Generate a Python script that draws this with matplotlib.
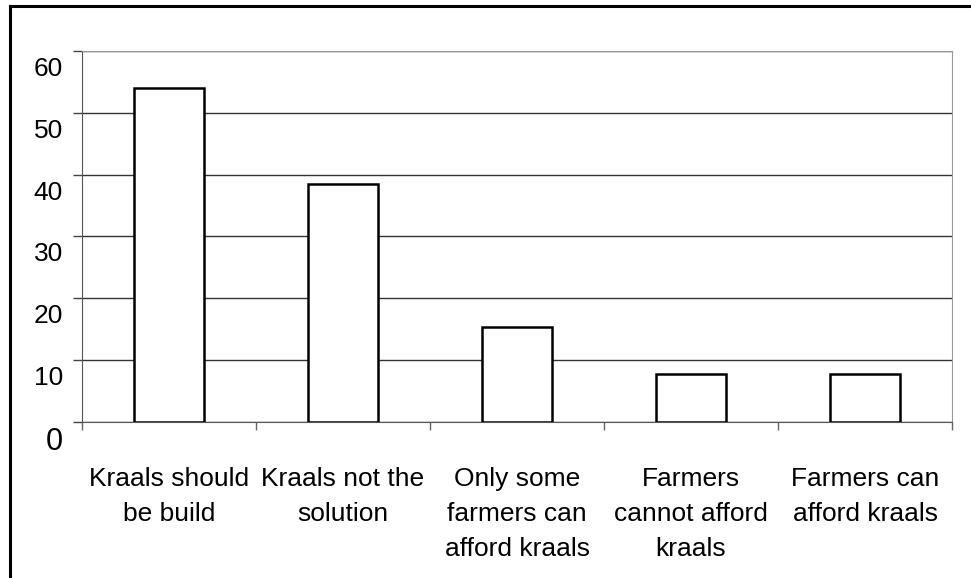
import numpy as np
import matplotlib
matplotlib.use("Agg")
from matplotlib import pyplot as plt
from matplotlib import transforms
from matplotlib.lines import Line2D

categories = ["Kraals should\nbe build", "Kraals not the\nsolution",
              "Only some\nfarmers can\nafford kraals", "Farmers\ncannot afford\nkraals",
              "Farmers can\nafford kraals"]
values = [54, 38.5, 15.3, 7.7, 7.7]
yticks = [0, 10, 20, 30, 40, 50, 60]

plt.rcParams['font.family'] = ['Liberation Sans', 'DejaVu Sans']

fig = plt.figure(figsize=(9.71, 5.78), dpi=100)
ax = fig.add_axes([82 / 971, 1 - 421.5 / 578, 870 / 971, 370.5 / 578])

x = np.arange(len(categories))
ax.bar(x, values, width=0.4, color='white', edgecolor='black', linewidth=1.8, zorder=3)

ax.set_xlim(-0.5, len(categories) - 0.5)
ax.set_ylim(0, 60)
ax.set_yticks(yticks)
ax.set_yticklabels([])
ax.yaxis.grid(True, color='#333333', linewidth=1)
ax.set_axisbelow(True)
ax.tick_params(axis='y', direction='out', length=6.5, width=1, color='#444444')

# y labels sit a bit below their ticks in the original
for v in yticks:
    size = 22 if v == 0 else 19
    drop = 21 if v == 0 else 18
    off = transforms.ScaledTranslation(-19 / 100, -drop / 100, fig.dpi_scale_trans)
    ax.text(0, v, str(v), fontsize=size, ha='right', va='center',
            transform=ax.get_yaxis_transform() + off)

ax.set_xticks(x)
ax.set_xticklabels(categories, fontsize=19, linespacing=1.58)
ax.tick_params(axis='x', which='major', length=0, pad=33)
ax.set_xticks(np.arange(-0.5, len(categories)), minor=True)
ax.tick_params(axis='x', which='minor', direction='out', length=6, width=1, color='#666666')

for s in ['top', 'right']:
    ax.spines[s].set_color('#999999')
for s in ['left', 'bottom']:
    ax.spines[s].set_color('#555555')

# outer frame (left and top only)
fig.add_artist(Line2D([10 / 971, 10 / 971], [0, 1 - 6 / 578], color='black', linewidth=2.2,
                      transform=fig.transFigure))
fig.add_artist(Line2D([10 / 971, 970 / 971], [1 - 6 / 578, 1 - 6 / 578], color='black',
                      linewidth=2.2, transform=fig.transFigure))

fig.savefig("out.png", dpi=100)
